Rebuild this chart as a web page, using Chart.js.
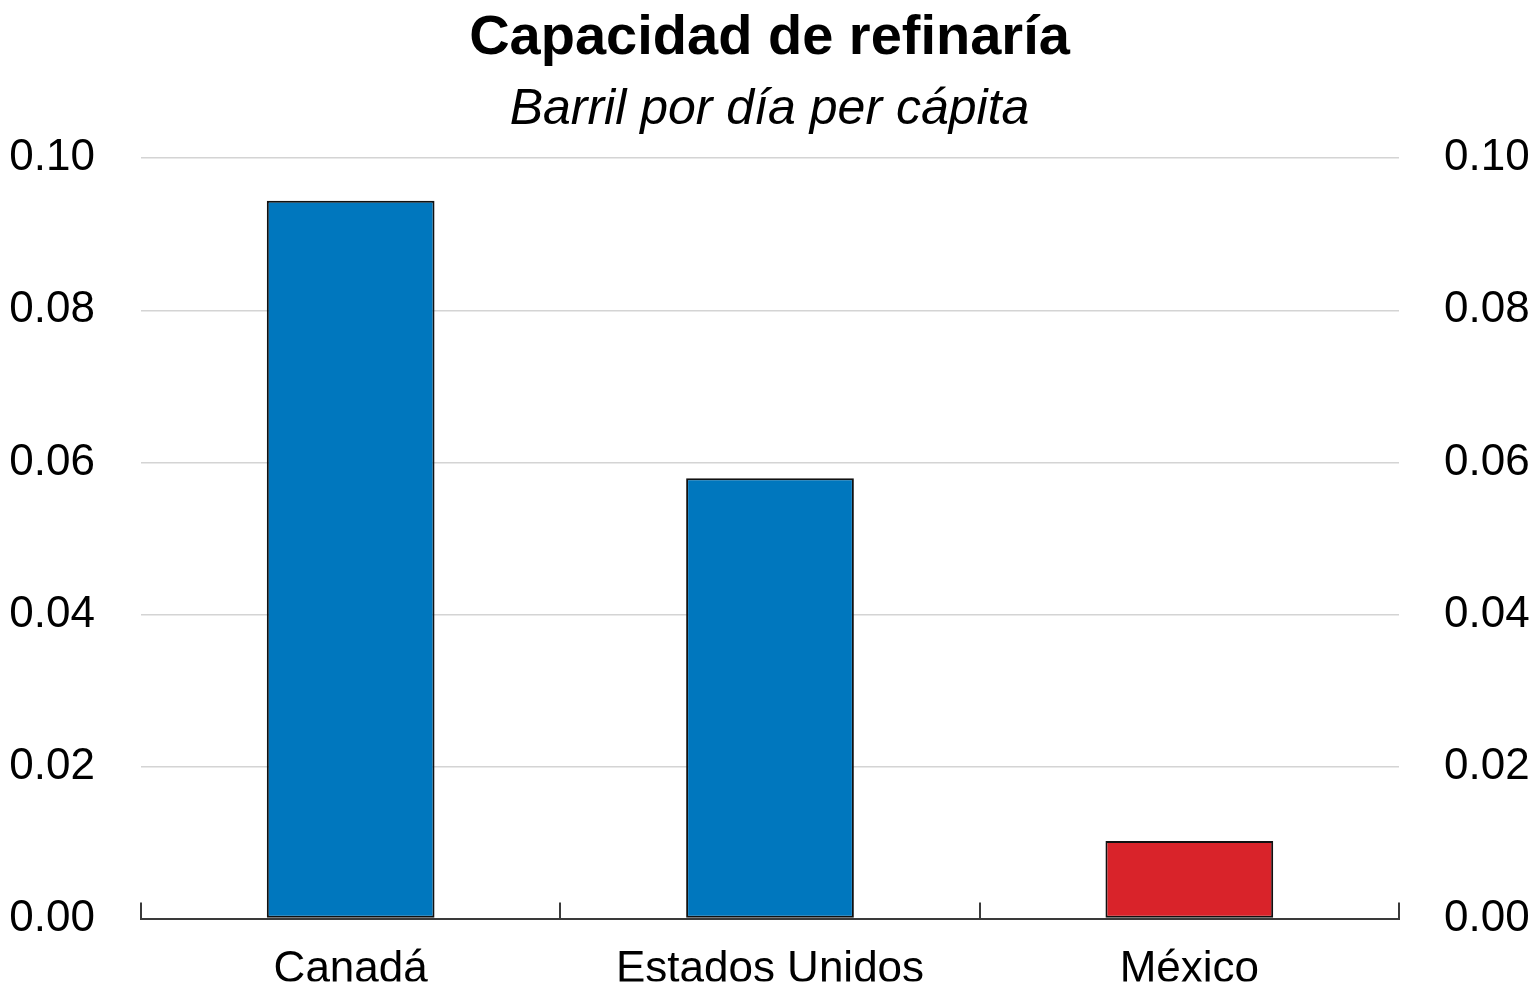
<!DOCTYPE html>
<html>
<head>
<meta charset="utf-8">
<script src="https://cdn.jsdelivr.net/npm/chart.js@4"></script>
<style>
    html, body { margin: 0; padding: 0; background: #fff; }
    #wrap { width: 1539px; height: 991px; }
</style>
</head>
<body>
<div id="wrap"><canvas id="grafico"></canvas></div>
<script>
const paesi = ['Canadá', 'Estados Unidos', 'México'];
const capacita = [0.0944, 0.0579, 0.0102];
const coloriBarre = ['#0077BE', '#0077BE', '#D9232A'];
const tickY = [0, 0.02, 0.04, 0.06, 0.08, 0.10];

const FONT = '"Liberation Sans Narrow", "Arial Narrow", "Liberation Sans", Arial, sans-serif';

// tacche dell'asse x rivolte verso l'alto, ai bordi delle categorie
const tacchePlugin = {
    id: 'tacche',
    afterDatasetsDraw(chart) {
        const x = chart.scales.x;
        const ctx = chart.ctx;
        const base = chart.chartArea.bottom;
        ctx.save();
        ctx.strokeStyle = '#3a3a3a';
        ctx.lineWidth = 2;
        for (let i = 0; i <= paesi.length; i++) {
            const px = Math.round(x.getPixelForValue(i - 0.5));
            ctx.beginPath();
            ctx.moveTo(px, base - 16);
            ctx.lineTo(px, base);
            ctx.stroke();
        }
        ctx.restore();
    }
};

new Chart(document.getElementById('grafico'), {
    type: 'bar',
    data: {
        labels: paesi,
        datasets: [{
            data: capacita,
            backgroundColor: coloriBarre,
            borderColor: '#111',
            borderWidth: 2,
            borderSkipped: false,
            categoryPercentage: 1,
            barPercentage: 0.4
        }]
    },
    options: {
        responsive: true,
        maintainAspectRatio: false,
        animation: false,
        layout: { padding: 0 },
        plugins: {
            legend: { display: false },
            tooltip: { enabled: false },
            title: {
                display: true,
                text: 'Capacidad de refinaría',
                color: '#000',
                font: { family: FONT, size: 56, weight: 'bold' },
                padding: { top: 5, bottom: 0 }
            },
            subtitle: {
                display: true,
                text: 'Barril por día per cápita',
                color: '#000',
                font: { family: FONT, size: 50, style: 'italic' },
                padding: { top: 8, bottom: 18 }
            }
        },
        scales: {
            x: {
                offset: true,
                grid: { display: false },
                border: { display: true, color: '#3a3a3a', width: 2 },
                ticks: {
                    color: '#000',
                    padding: 17,
                    maxRotation: 0,
                    font: { family: FONT, size: 44 }
                },
                afterFit(scale) { scale.height = 63; }
            },
            y: {
                position: 'left',
                min: 0,
                max: 0.10,
                afterBuildTicks(scale) { scale.ticks = tickY.map(v => ({ value: v })); },
                grid: { color: '#d4d4d4', lineWidth: 1.5, drawTicks: false },
                border: { display: false },
                ticks: {
                    color: '#000',
                    padding: 46,
                    font: { family: FONT, size: 44 },
                    callback: v => v.toFixed(2)
                },
                afterFit(scale) { scale.width = 141; }
            },
            y2: {
                position: 'right',
                min: 0,
                max: 0.10,
                afterBuildTicks(scale) { scale.ticks = tickY.map(v => ({ value: v })); },
                grid: { display: false, drawTicks: false },
                border: { display: false },
                ticks: {
                    color: '#000',
                    padding: 45,
                    font: { family: FONT, size: 44 },
                    callback: v => v.toFixed(2)
                },
                afterFit(scale) { scale.width = 140; }
            }
        }
    },
    plugins: [tacchePlugin]
});
</script>
</body>
</html>
